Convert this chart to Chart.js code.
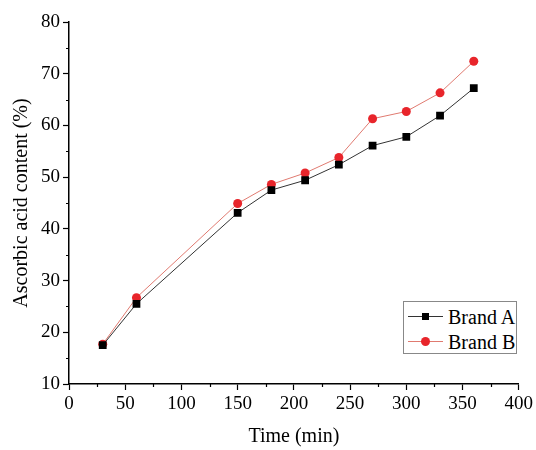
<!DOCTYPE html>
<html>
<head>
<meta charset="utf-8">
<script src="https://cdn.jsdelivr.net/npm/chart.js@4"></script>
<style>
  body { margin: 0; background: #fff; }
  #wrap { position: relative; width: 536px; height: 450px; }
  #legend {
    position: absolute; left: 403px; top: 301px; width: 112px; height: 51px;
    border: 1px solid #888; background: #fff;
    font-family: "Liberation Serif", serif; font-size: 20px; color: #000;
  }
  .row { position: absolute; left: 0; height: 24px; line-height: 24px; }
  .line { position: absolute; left: 4px; width: 35px; top: 11px; height: 1px; }
  .mark { position: absolute; }
  .txt { position: absolute; left: 44px; top: 0; white-space: nowrap; }
</style>
</head>
<body>
<div id="wrap">
  <canvas id="chart" width="536" height="450"></canvas>
  <div id="legend">
    <div class="row" style="top:3px">
      <span class="line" style="background:#333"></span>
      <span class="mark" style="left:18px;top:8px;width:7px;height:7px;background:#000"></span>
      <span class="txt">Brand A</span>
    </div>
    <div class="row" style="top:28px">
      <span class="line" style="background:#e07a70"></span>
      <span class="mark" style="left:17px;top:7px;width:9px;height:9px;border-radius:50%;background:#e8252b"></span>
      <span class="txt">Brand B</span>
    </div>
  </div>
</div>
<script>
const times = [30, 60, 150, 180, 210, 240, 270, 300, 330, 360];
const brandA = [17.5, 25.5, 43.1, 47.5, 49.4, 52.4, 56.1, 57.8, 61.9, 67.2];
const brandB = [17.7, 26.7, 44.9, 48.6, 50.8, 53.8, 61.3, 62.7, 66.3, 72.4];

const font = { family: "Liberation Serif", size: 19 };
const titleFont = { family: "Liberation Serif", size: 20 };

// small ticks between the labelled ones
const minorTicks = {
  id: "minorTicks",
  afterDraw(chart) {
    const ctx = chart.ctx;
    const x = chart.scales.x, y = chart.scales.y;
    ctx.save();
    ctx.strokeStyle = "#000";
    ctx.lineWidth = 1.2;
    ctx.beginPath();
    for (let v = 25; v < 400; v += 50) {
      const px = Math.round(x.getPixelForValue(v)) + 0.5;
      ctx.moveTo(px, chart.chartArea.bottom);
      ctx.lineTo(px, chart.chartArea.bottom + 3);
    }
    for (let v = 15; v < 80; v += 10) {
      const py = Math.round(y.getPixelForValue(v)) + 0.5;
      ctx.moveTo(chart.chartArea.left, py);
      ctx.lineTo(chart.chartArea.left - 3, py);
    }
    ctx.stroke();
    ctx.restore();
  }
};

new Chart(document.getElementById("chart"), {
  type: "line",
  data: {
    datasets: [{
      label: "Brand A",
      data: times.map((t, i) => ({ x: t, y: brandA[i] })),
      borderColor: "#333",
      borderWidth: 1,
      pointStyle: "rect",
      pointRadius: 5.5,
      pointBackgroundColor: "#000",
      pointBorderColor: "#000",
      pointBorderWidth: 0
    }, {
      label: "Brand B",
      data: times.map((t, i) => ({ x: t, y: brandB[i] })),
      borderColor: "#e07a70",
      borderWidth: 1,
      pointStyle: "circle",
      pointRadius: 4.5,
      pointBackgroundColor: "#e8252b",
      pointBorderColor: "#e8252b",
      pointBorderWidth: 0
    }]
  },
  options: {
    responsive: false,
    animation: false,
    devicePixelRatio: 1,
    layout: { padding: { top: 22, right: 15, bottom: 0, left: 0 } },
    plugins: { legend: { display: false }, tooltip: { enabled: false } },
    scales: {
      x: {
        type: "linear",
        min: 0, max: 400,
        ticks: { stepSize: 50, color: "#000", font, padding: 3, maxRotation: 0 },
        grid: { drawOnChartArea: false, drawTicks: true, tickLength: 6, color: "#000", tickWidth: 1.2 },
        border: { color: "#000", width: 1.5 },
        title: { display: true, text: "Time (min)", color: "#000", font: titleFont, padding: { top: 0, bottom: 1 } },
        afterFit(s) { s.height = 66; }
      },
      y: {
        min: 10, max: 80,
        ticks: { stepSize: 10, color: "#000", font, padding: 3 },
        grid: { drawOnChartArea: false, drawTicks: true, tickLength: 6, color: "#000", tickWidth: 1.2 },
        border: { color: "#000", width: 1.5 },
        title: { display: true, text: "Ascorbic acid content (%)", color: "#000", font: titleFont, padding: { top: 10, bottom: 0 } },
        afterFit(s) { s.width = 69; }
      }
    }
  },
  plugins: [minorTicks]
});
</script>
</body>
</html>
